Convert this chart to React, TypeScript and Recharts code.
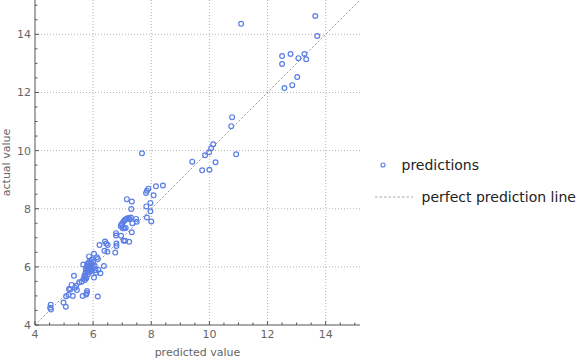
import React from 'react';
import { ComposedChart, Scatter, XAxis, YAxis, ReferenceLine, Legend, Label } from 'recharts';

const predictedValues = [
  4.54, 4.52, 4.55, 4.98, 5.06, 5.07, 5.15, 5.17, 5.21, 5.30, 5.26, 5.34, 5.38, 5.44, 5.42, 5.52, 5.61, 5.67, 5.72, 5.64, 5.78, 5.79, 5.76, 5.66,
  5.70, 5.72, 5.74, 5.75, 5.77, 5.78, 5.79, 5.80, 5.81, 5.82, 5.83, 5.84, 5.85, 5.86, 5.87, 5.88, 5.89, 5.90, 5.91, 5.92, 5.93, 5.95, 5.96, 5.97, 5.99, 6.00,
  6.03, 6.03, 6.05, 6.08, 6.10, 6.13, 6.16, 6.16, 6.18, 6.22, 6.25, 6.37, 6.41, 6.39, 6.49, 6.45, 6.50,
  6.76, 6.80, 6.80, 6.79, 6.79, 6.96, 7.05, 7.10, 7.24, 6.95, 6.97, 7.00, 7.02, 7.07, 7.12, 7.04, 7.08, 7.12, 7.16, 7.22, 7.26, 7.30, 7.33, 7.35, 7.48, 7.50,
  7.16, 7.33, 7.31, 7.82, 7.85, 7.90, 8.16, 8.40, 8.08, 7.83, 7.97, 7.97, 7.85, 8.00, 7.68,
  9.41, 9.75, 10.00, 9.85, 9.99, 10.06, 10.13, 10.21, 10.92, 10.75, 10.78, 11.09,
  12.50, 12.79, 12.50, 13.06, 13.27, 13.33, 13.02, 12.58, 12.85, 13.64, 13.71,
];
const actualValues = [
  4.70, 4.59, 4.53, 4.77, 4.63, 4.99, 5.03, 5.24, 5.22, 5.00, 5.38, 5.69, 5.28, 5.20, 5.35, 5.47, 5.49, 5.59, 5.64, 5.00, 5.10, 5.17, 5.05, 6.08,
  5.70, 5.55, 5.80, 5.92, 5.62, 6.00, 5.85, 6.10, 5.95, 5.75, 6.05, 5.88, 6.15, 6.36, 5.98, 5.82, 6.20, 5.93, 6.05, 5.86, 6.12, 5.97, 6.25, 5.90, 6.02, 6.18,
  6.45, 5.63, 6.05, 5.88, 5.80, 6.33, 6.27, 4.98, 5.90, 6.75, 5.78, 6.03, 6.87, 6.55, 6.52, 6.80, 6.75,
  6.49, 6.80, 6.72, 7.16, 7.08, 7.07, 6.90, 6.90, 6.86, 7.40, 7.46, 7.48, 7.33, 7.33, 7.34, 7.55, 7.60, 7.63, 7.66, 7.68, 7.64, 7.70, 7.19, 7.50, 7.65, 7.55,
  8.33, 8.25, 7.99, 8.54, 8.62, 8.69, 8.77, 8.80, 8.46, 8.08, 8.20, 7.91, 7.70, 7.56, 9.91,
  9.62, 9.32, 9.34, 9.84, 9.94, 10.08, 10.22, 9.60, 9.87, 10.84, 11.15, 14.36,
  13.25, 13.32, 12.98, 13.18, 13.32, 13.14, 12.53, 12.15, 12.25, 14.63, 13.94,
];

const axisMin = 4;
const axisMax = 15.18;
const axisTicks = [4, 4.5, 5, 5.5, 6, 6.5, 7, 7.5, 8, 8.5, 9, 9.5, 10, 10.5, 11, 11.5, 12, 12.5, 13, 13.5, 14, 14.5, 15];
const gridValues = [6, 8, 10, 12, 14];
const perfectLine = [
  { x: 4, y: 4 },
  { x: 15.18, y: 15.18 },
];

const points = predictedValues.map((p, i) => ({ x: p, y: actualValues[i] }));

const AXIS_COLOR = '#555';
const TEXT_COLOR = '#666';
const POINT_COLOR = '#5a7ee6';
const FONT = '"DejaVu Sans", sans-serif';

const isMajor = (v: number) => Number.isInteger(v) && v % 2 === 0;

const XTick = (props: any) => {
  const { x, y, payload } = props;
  const v = payload.value;
  const major = isMajor(v);
  return (
    <g>
      <line x1={x} x2={x} y1={y} y2={y - (major ? 4 : 2.5)} stroke={AXIS_COLOR} strokeWidth={1} />
      {major && (
        <text x={x} y={y + 13} textAnchor="middle" fill={TEXT_COLOR} fontSize={11} fontFamily={FONT}>
          {v}
        </text>
      )}
    </g>
  );
};

const YTick = (props: any) => {
  const { x, y, payload } = props;
  const v = payload.value;
  const major = isMajor(v);
  return (
    <g>
      <line x1={x} x2={x + (major ? 4 : 2.5)} y1={y} y2={y} stroke={AXIS_COLOR} strokeWidth={1} />
      {major && (
        <text x={x - 4} y={y + 4} textAnchor="end" fill={TEXT_COLOR} fontSize={11} fontFamily={FONT}>
          {v}
        </text>
      )}
    </g>
  );
};

const PointShape = (props: any) => (
  <circle cx={props.cx} cy={props.cy} r={2.4} fill="none" stroke={POINT_COLOR} strokeWidth={1.2} />
);

const LegendContent = () => (
  <svg width={224} height={80} style={{ display: 'block' }}>
    <circle cx={23} cy={25} r={2} fill="none" stroke={POINT_COLOR} strokeWidth={1.1} />
    <text x={41.5} y={30} fontSize={14} fill="#222" fontFamily={FONT}>predictions</text>
    <line x1={15} x2={53} y1={57} y2={57} stroke="#aaa" strokeWidth={1} strokeDasharray="2.5 2" />
    <text x={61.5} y={62} fontSize={14} fill="#222" fontFamily={FONT}>perfect prediction line</text>
  </svg>
);

const XLabel = (props: any) => {
  const vb = props.viewBox || {};
  return (
    <text x={vb.x + vb.width / 2} y={356} textAnchor="middle" fill={TEXT_COLOR} fontSize={11} fontFamily={FONT}>
      predicted value
    </text>
  );
};

const YLabel = (props: any) => {
  const vb = props.viewBox || {};
  const cy = vb.y + vb.height / 2;
  return (
    <text x={10} y={cy} transform={`rotate(-90, 10, ${cy})`} textAnchor="middle" fill={TEXT_COLOR} fontSize={11} fontFamily={FONT}>
      actual value
    </text>
  );
};

export default function App() {
  return (
    <div style={{ position: 'absolute', left: 0, top: 0, width: 584, height: 360, background: '#fff', fontFamily: FONT }}>
      <ComposedChart width={584} height={360} margin={{ top: 0, right: 224, bottom: 0, left: 0 }}>
        <XAxis
          type="number"
          dataKey="x"
          domain={[axisMin, axisMax]}
          ticks={axisTicks}
          interval={0}
          allowDataOverflow
          height={35}
          tickSize={0}
          tickMargin={0}
          tickLine={false}
          axisLine={{ stroke: AXIS_COLOR, strokeWidth: 1 }}
          tick={<XTick />}
        >
          <Label content={<XLabel />} />
        </XAxis>
        <YAxis
          type="number"
          dataKey="y"
          domain={[axisMin, axisMax]}
          ticks={axisTicks}
          interval={0}
          allowDataOverflow
          width={35}
          tickSize={0}
          tickMargin={0}
          tickLine={false}
          axisLine={{ stroke: AXIS_COLOR, strokeWidth: 1 }}
          tick={<YTick />}
        >
          <Label content={<YLabel />} />
        </YAxis>
        {gridValues.map((v) => (
          <ReferenceLine key={`gx${v}`} x={v} stroke="#b5b5b5" strokeDasharray="1 2" strokeWidth={1} />
        ))}
        {gridValues.map((v) => (
          <ReferenceLine key={`gy${v}`} y={v} stroke="#b5b5b5" strokeDasharray="1 2" strokeWidth={1} />
        ))}
        <ReferenceLine
          segment={perfectLine}
          stroke="#999"
          strokeDasharray="2 2"
          strokeWidth={1}
          ifOverflow="visible"
        />
        <Scatter name="predictions" data={points} shape={<PointShape />} isAnimationActive={false} />
        <Legend
          layout="vertical"
          align="center"
          verticalAlign="middle"
          content={<LegendContent />}
          wrapperStyle={{ left: 360, top: 140, width: 224, height: 80 }}
        />
      </ComposedChart>
    </div>
  );
}
